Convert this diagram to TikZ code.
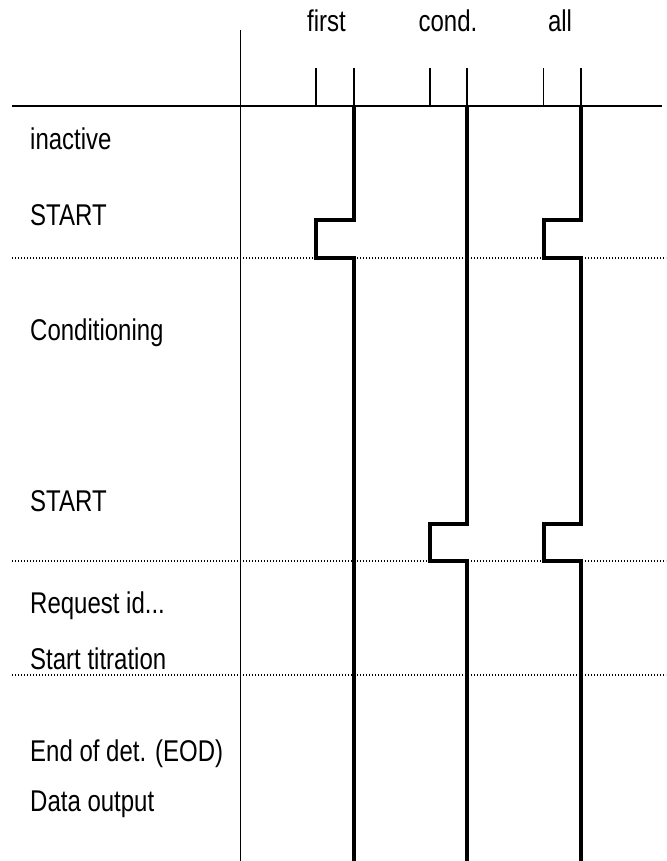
\documentclass[tikz,border=0pt]{standalone}
\usepackage{fontspec}
\setmainfont[FakeStretch=0.80]{Liberation Sans}
\begin{document}
\begin{tikzpicture}[x=1pt,y=-1pt,
  thin line/.style={line width=1.3pt,black},
  signal/.style={line width=4pt,black,line join=miter,line cap=butt},
  sep line/.style={line width=1.3pt,black,dash pattern=on 1.3pt off 1.7pt},
  lbl/.style={inner sep=0pt,anchor=base west,font=\fontsize{30}{36}\selectfont},
  head/.style={inner sep=0pt,anchor=base,font=\fontsize{30}{36}\selectfont}]
\useasboundingbox (0,0) rectangle (666,861);
% header
\node[head] (hfirst) at (326.5,32) {first};
\node[head] (hcond) at (448,32) {cond.};
\node[head] (hall) at (560,32) {all};
% frame
\draw[thin line] (12,106) -- (662,106);
\draw[thin line] (240.5,30) -- (240.5,861);
\foreach \x in {316,354,430,467,543.5,581}
  \draw[thin line] (\x,68) -- (\x,106);
% separators
\draw[sep line] (12,258) -- (666,258);
\draw[sep line] (12,561) -- (666,561);
\draw[sep line] (12,675) -- (666,675);
% signals
\draw[signal] (354,106) -- (354,220) -- (316,220) -- (316,258) -- (354,258) -- (354,861);
\draw[signal] (467,106) -- (467,524) -- (430,524) -- (430,561) -- (467,561) -- (467,861);
\draw[signal] (581,106) -- (581,220) -- (543.5,220) -- (543.5,258) -- (581,258) -- (581,524) -- (543.5,524) -- (543.5,561) -- (581,561) -- (581,861);
% labels
\node[lbl] (l1) at (30,150) {inactive};
\node[lbl] (l2) at (30,225) {START};
\node[lbl] (l3) at (30,340) {Conditioning};
\node[lbl] (l4) at (30,511) {START};
\node[lbl] (l5) at (30,613) {Request id...};
\node[lbl] (l6) at (30,669) {Start titration};
\node[lbl] (l7) at (30,761) {End of det. (EOD)};
\node[lbl] (l8) at (30,811) {Data output};
\end{tikzpicture}
\end{document}
